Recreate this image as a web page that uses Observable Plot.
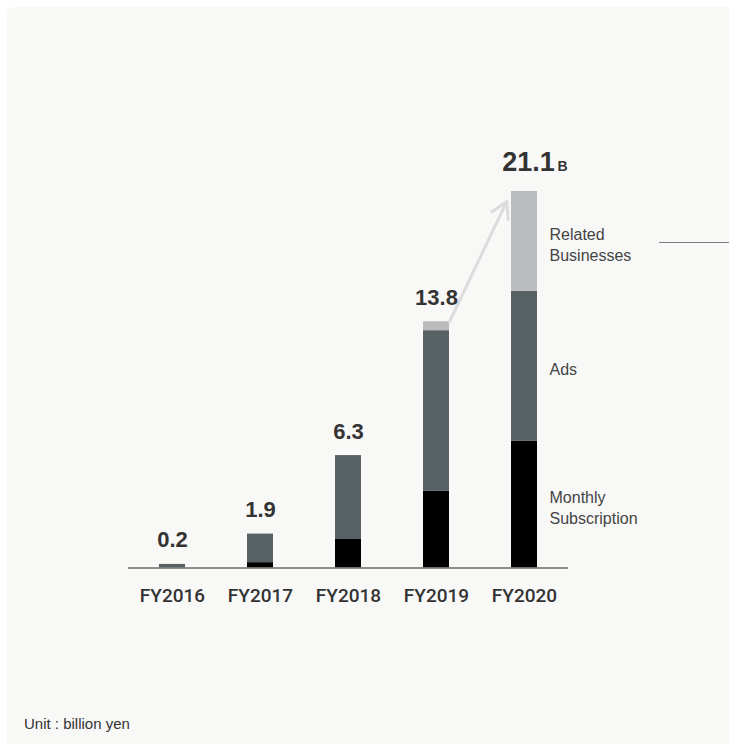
<!DOCTYPE html>
<html>
<head>
<meta charset="utf-8">
<script src="https://cdn.jsdelivr.net/npm/d3@7"></script>
<script src="https://cdn.jsdelivr.net/npm/@observablehq/plot@0.6"></script>
<style>
  html, body { margin: 0; padding: 0; background: #ffffff; }
  #wrap { position: relative; width: 729px; height: 744px; overflow: hidden; }
  #panel { position: absolute; left: 7px; top: 7px; right: 0; bottom: 0; background: #f8f8f7; border-top-left-radius: 7px; }
  #chart { position: absolute; left: 0; top: 0; }
  #divider { position: absolute; left: 659px; top: 242px; width: 70px; height: 1px; background: #7a7a7a; }
  #note { position: absolute; left: 24px; top: 715px; font: 15px "Liberation Sans", Arial, sans-serif; color: #333; }
</style>
</head>
<body>
<div id="wrap">
  <div id="panel"></div>
  <div id="divider"></div>
  <div id="chart"></div>
  <div id="note">Unit : billion yen</div>
</div>
<script>
// Revenue by fiscal year, billion yen, split into three business lines
const years = ["FY2016", "FY2017", "FY2018", "FY2019", "FY2020"];
const segments = ["Monthly Subscription", "Ads", "Related Businesses"];
const segmentLabels = ["Monthly\nSubscription", "Ads", "Related\nBusinesses"];
const monthly = [0, 0.3, 1.6, 4.3, 7.1];
const ads = [0.2, 1.6, 4.7, 9.0, 8.4];
const related = [0, 0, 0, 0.5, 5.6];
const unitSuffix = "B";
const segmentColors = ["#000000", "#576063", "#b9bbbc"];

const series = [monthly, ads, related];
const rows = years.flatMap((year, i) =>
  segments.map((segment, k) => ({year, i, segment, label: segmentLabels[k], value: series[k][i]}))
);
const totals = years.map((year, i) => ({
  year, i, total: Math.round((monthly[i] + ads[i] + related[i]) * 10) / 10
}));
const lastYear = totals[totals.length - 1];
const prevYear = totals[totals.length - 2];

// Each year occupies one unit on x; the bar fills this share of it
const barShare = 26 / 88;
const center = d => d.i + 0.5;
const numberFont = "'Helvetica Neue', Helvetica, 'Liberation Sans', Arial, sans-serif";

const chart = Plot.plot({
  width: 729,
  height: 744,
  marginLeft: 128,
  marginRight: 161,
  marginTop: 191,
  marginBottom: 176.5,
  style: {background: "transparent", fontFamily: "Roboto, sans-serif", fontSize: "19px", fontWeight: 500, color: "#333"},
  x: {
    type: "linear",
    domain: [0, years.length],
    ticks: years.map((_, i) => i + 0.5),
    tickFormat: v => years[Math.floor(v)],
    tickSize: 0,
    tickPadding: 20,
    label: null
  },
  y: {domain: [0, d3.max(totals, d => d.total)], axis: null},
  color: {domain: segments, range: segmentColors},
  marks: [
    Plot.rectY(rows, {
      x1: d => center(d) - barShare / 2,
      x2: d => center(d) + barShare / 2,
      y: "value",
      fill: "segment"
    }),
    Plot.ruleY([0], {stroke: "#6f6b69", strokeWidth: 1.5}),
    // growth arrow from the top of the previous year's bar to the latest bar
    Plot.arrow([{from: prevYear, to: lastYear}], {
      x1: d => center(d.from) + barShare / 2,
      y1: d => d.from.total,
      x2: d => center(d.to) - barShare / 2,
      y2: d => d.to.total,
      stroke: "#dcdcdc",
      strokeWidth: 3,
      insetEnd: 11,
      headLength: 9
    }),
    Plot.text(totals.slice(0, -1), {
      x: center, y: "total", text: d => d.total.toFixed(1),
      dy: -24, fontSize: 22, fontWeight: 700, fontFamily: numberFont, fill: "#333"
    }),
    Plot.text([lastYear], {
      x: center, y: "total", text: d => d.total.toFixed(1),
      dx: 4, dy: -29, fontSize: 27, fontWeight: 700, fontFamily: numberFont, fill: "#333"
    }),
    Plot.text([lastYear], {
      x: center, y: "total", text: () => unitSuffix, textAnchor: "start",
      dx: 33, dy: -25, fontSize: 14, fontWeight: 700, fontFamily: numberFont, fill: "#333"
    }),
    // segment names beside the latest bar, centred on each segment
    Plot.text(rows.filter(d => d.i === lastYear.i), Plot.stackY({
      x: center, y: "value", text: "label", textAnchor: "start",
      dx: 25, dy: 2, fontSize: 16, fontWeight: 400, lineHeight: 1.35,
      fontFamily: numberFont, fill: "#444"
    }))
  ]
});
document.getElementById("chart").appendChild(chart);
</script>
</body>
</html>
